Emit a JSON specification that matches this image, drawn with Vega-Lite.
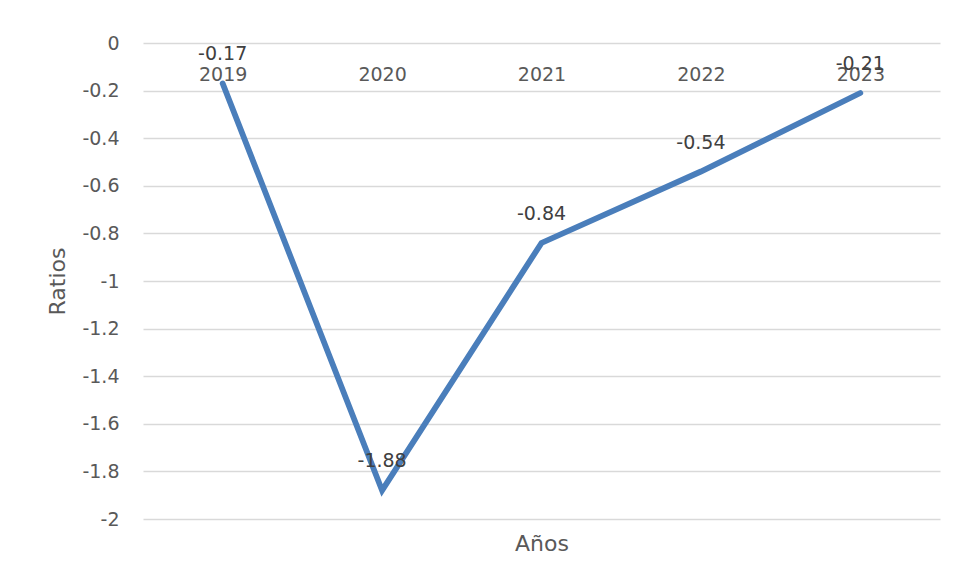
{
  "$schema": "https://vega.github.io/schema/vega-lite/v6.json",
  "autosize": "none",
  "width": 797,
  "height": 476,
  "padding": {"left": 143, "top": 43, "right": 17, "bottom": 62},
  "background": "white",
  "config": {
    "view": {"stroke": null},
    "font": "DejaVu Sans",
    "locale": {
      "number": {"decimal": ".", "thousands": ",", "grouping": [3], "currency": ["$", ""], "minus": "-"}
    }
  },
  "data": {
    "values": [
      {"anio": "2019", "ratio": -0.17},
      {"anio": "2020", "ratio": -1.88},
      {"anio": "2021", "ratio": -0.84},
      {"anio": "2022", "ratio": -0.54},
      {"anio": "2023", "ratio": -0.21}
    ]
  },
  "encoding": {
    "x": {
      "field": "anio",
      "type": "ordinal",
      "sort": null,
      "scale": {"type": "point", "padding": 0.5},
      "axis": {
        "orient": "bottom",
        "offset": -476,
        "title": "Años",
        "titleFont": "DejaVu Sans",
        "titleFontSize": 22,
        "titleFontWeight": "normal",
        "titleColor": "#595959",
        "titleBaseline": "alphabetic",
        "titleY": 507,
        "labelAngle": 0,
        "labelFont": "DejaVu Sans",
        "labelFontSize": 19,
        "labelColor": "#595959",
        "labelPadding": 22,
        "ticks": false,
        "tickSize": 0,
        "domain": false,
        "grid": false
      }
    },
    "y": {
      "field": "ratio",
      "type": "quantitative",
      "scale": {"domain": [-2, 0], "nice": false, "zero": false},
      "axis": {
        "title": "Ratios",
        "titleFont": "DejaVu Sans",
        "titleFontSize": 22,
        "titleFontWeight": "normal",
        "titleColor": "#595959",
        "titlePadding": 12,
        "values": [0, -0.2, -0.4, -0.6, -0.8, -1, -1.2, -1.4, -1.6, -1.8, -2],
        "format": "~g",
        "labelFont": "DejaVu Sans",
        "labelFontSize": 19,
        "labelColor": "#595959",
        "labelPadding": 24,
        "ticks": false,
        "tickSize": 0,
        "domain": false,
        "grid": true,
        "gridColor": "#d9d9d9",
        "gridWidth": 1.3
      }
    }
  },
  "layer": [
    {
      "mark": {
        "type": "line",
        "color": "#4A7EBB",
        "strokeWidth": 5.8,
        "strokeCap": "round",
        "strokeJoin": "miter"
      }
    },
    {
      "mark": {
        "type": "text",
        "font": "DejaVu Sans",
        "fontSize": 19,
        "color": "#404040",
        "baseline": "alphabetic",
        "align": "center",
        "dy": -23
      },
      "encoding": {
        "text": {"field": "ratio", "type": "quantitative", "format": ".2f"}
      }
    }
  ]
}
